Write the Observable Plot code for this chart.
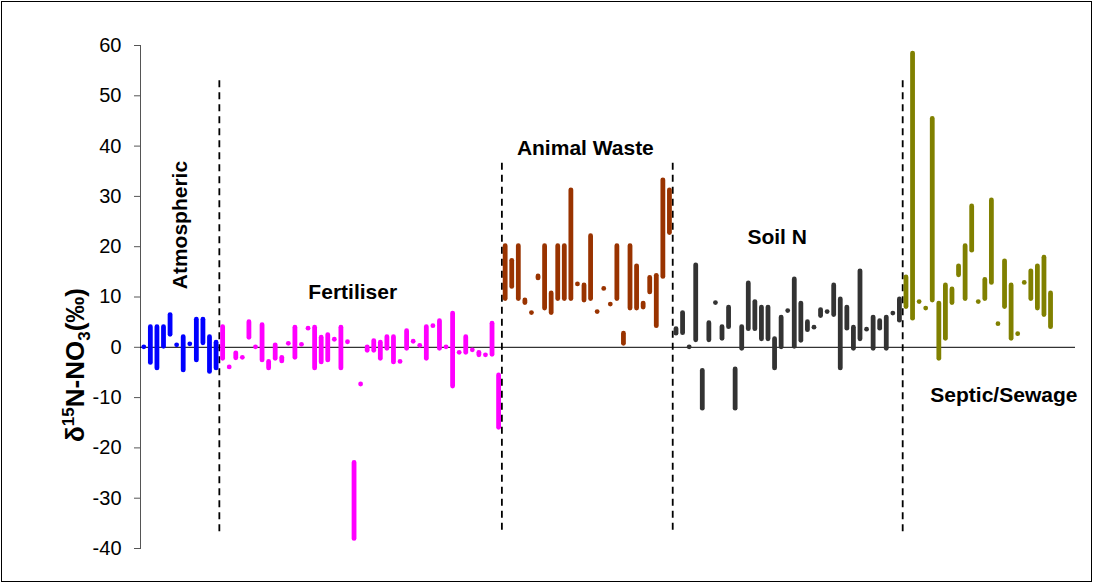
<!DOCTYPE html>
<html><head><meta charset="utf-8">
<script src="https://cdn.jsdelivr.net/npm/d3@7"></script>
<script src="https://cdn.jsdelivr.net/npm/@observablehq/plot@0.6"></script>
<style>
html,body{margin:0;padding:0;background:#fff;}
#wrap{position:relative;width:1094px;height:584px;}
#border{position:absolute;left:1px;top:1px;width:1089px;height:579px;border:1px solid #000;pointer-events:none;}
svg{display:block;}
</style></head><body><div id="wrap"><div id="border"></div></div>
<script>
// ---- data (δ15N ranges, ‰: [low, high]) ----
const categories = ["Atmospheric", "Fertiliser", "Animal Waste", "Soil N", "Septic/Sewage"];
const colors = ["#0000ff", "#ff00ff", "#993300", "#333333", "#808000"];
const atmospheric = [[0,0],[-3.1,4.0],[-4.2,4.0],[0.1,4.0],[2.5,6.4],[0.4,0.4],[-4.6,2.0],[0.6,0.6],[-2.6,5.5],[0.8,5.5],[-4.9,2.0],[-4.2,0.9]];
const fertiliser = [[-2.3,4.0],[-4.0,-4.0],[-2.2,-1.2],[-2.1,-2.1],[1.9,5.0],[0,0],[-2.6,4.4],[-4.2,-2.9],[-2.3,0.4],[-2.8,-2.1],[0.7,0.7],[-2.1,3.9],[0.5,0.5],[3.7,3.7],[-4.2,3.9],[-3.0,1.9],[-2.6,2.4],[1.5,1.5],[-4.2,3.9],[1.0,1.0],[-38.1,-23.0],[-7.4,-7.4],[-0.7,0],[-0.7,1.2],[-2.3,0.9],[-0.3,2.0],[-3.0,2.0],[-2.9,-2.9],[-0.3,3.2],[1.1,1.1],[0.3,0.3],[-2.3,4.0],[4.2,4.2],[-0.3,5.2],[0,0],[-7.8,6.7],[-1.1,-1.1],[-1.1,2.0],[-0.6,-0.6],[-1.6,-1.1],[-1.6,-1.6],[-1.5,4.7],[-16.0,-5.6]];
const animalWaste = [[9.6,20.1],[12.0,17.2],[9.6,20.1],[8.8,9.3],[6.8,6.8],[13.7,14.1],[7.7,20.1],[6.8,10.7],[9.6,20.1],[9.6,20.1],[9.6,31.2],[12.5,12.5],[9.3,12.3],[9.6,22.1],[7.0,7.0],[11.6,11.6],[8.5,8.5],[9.6,20.1],[0.7,2.7],[7.7,20.1],[7.7,16.1],[7.9,8.7],[10.9,13.8],[4.2,14.2],[14.0,33.2],[22.7,31.2]];
const soilN = [[2.7,3.6],[2.8,6.8],[0,0],[1.4,16.3],[-12.2,-4.7],[1.4,4.8],[8.8,8.8],[1.7,4.0],[4.0,7.9],[-12.2,-4.4],[-0.3,4.0],[3.6,12.7],[3.6,9.0],[1.6,7.9],[1.6,7.9],[-4.2,1.6],[0,5.9],[7.2,7.2],[0.1,13.5],[1.3,8.7],[3.4,5.0],[3.9,3.9],[6.2,7.4],[7.0,7.0],[6.4,12.3],[-4.2,9.5],[3.7,7.9],[-0.3,3.9],[1.6,15.1],[3.5,3.5],[-0.3,5.9],[3.7,5.2],[-0.3,5.9],[6.7,6.7],[5.3,9.5]];
const septic = [[8.0,13.9],[5.7,58.4],[9.0,9.0],[7.7,7.7],[9.3,45.4],[-2.3,8.7],[1.7,12.3],[8.8,11.5],[14.3,16.1],[9.6,20.1],[19.2,28.0],[9.0,9.0],[9.6,13.4],[12.8,29.2],[4.6,4.6],[8.0,17.1],[1.7,12.3],[2.6,2.6],[12.8,12.8],[9.6,15.1],[7.7,16.1],[6.4,17.8],[4.0,10.7]];
const yTicks = [-40, -30, -20, -10, 0, 10, 20, 30, 40, 50, 60];
const separatorTops = [53, 36.6, 36.6, 53];
const separatorBottom = -36.8;

// ---- build table ----
const groups = [atmospheric, fertiliser, animalWaste, soilN, septic];
const rows = [];
const bounds = [];
let idx = 0;
groups.forEach((g, c) => {
  if (c > 0) bounds.push(idx - 0.5);
  g.forEach(([lo, hi]) => { rows.push({i: idx, lo, hi, cat: categories[c]}); idx++; });
});
const seps = bounds.map((b, k) => ({x: b, y1: separatorTops[k], y2: separatorBottom}));
const labels = [
  {x: 5.6, y: 24.3, text: categories[0], rotate: -90},
  {x: 31.8, y: 10.9, text: categories[1], rotate: 0},
  {x: 67.2, y: 39.6, text: categories[2], rotate: 0},
  {x: 96.4, y: 21.9, text: categories[3], rotate: 0},
  {x: 130.9, y: -9.5, text: categories[4], rotate: 0}
];

const chart = Plot.plot({
  width: 1094, height: 584,
  marginLeft: 140, marginRight: 19, marginTop: 45, marginBottom: 36,
  style: {fontFamily: "'Liberation Sans', Arial, sans-serif", background: "transparent", overflow: "visible"},
  x: {domain: [-0.5, 141.8], axis: null},
  y: {domain: [-40, 60], axis: null},
  color: {domain: categories, range: colors},
  marks: [
    Plot.axisY({ticks: yTicks, tickFormat: d => String(d), tickSize: 6, tickPadding: 13, fontSize: 20, stroke: "#555", color: "#000", label: null}),
    Plot.frame({anchor: "left", stroke: "#555"}),
    Plot.ruleY([0], {stroke: "#000", strokeWidth: 1}),
    Plot.ruleX(seps, {x: "x", y1: "y1", y2: "y2", stroke: "#000", strokeWidth: 1.8, strokeDasharray: "7,5"}),
    Plot.ruleX(rows, {x: "i", y1: "lo", y2: "hi", stroke: "cat", strokeWidth: 4.8, strokeLinecap: "round"}),
    Plot.text(labels, {x: "x", y: "y", text: "text", rotate: "rotate", fontSize: 21, fontWeight: "bold", fill: "#000"})
  ]
});
document.getElementById("wrap").appendChild(chart);

// y-axis title with superscript / subscript
const svg = d3.select(chart);
const t = svg.append("text")
  .attr("transform", "translate(84,365) rotate(-90)")
  .attr("text-anchor", "middle")
  .attr("font-size", 26).attr("font-weight", "bold")
  .attr("font-family", "'Liberation Sans', Arial, sans-serif")
  .attr("fill", "#000");
t.append("tspan").text("δ");
t.append("tspan").attr("font-size", 17).attr("dy", -10).text("15");
t.append("tspan").attr("dy", 10).text("N-NO");
t.append("tspan").attr("font-size", 17).attr("dy", 6).text("3");
t.append("tspan").attr("dy", -6).text("(‰)");
</script></body></html>
